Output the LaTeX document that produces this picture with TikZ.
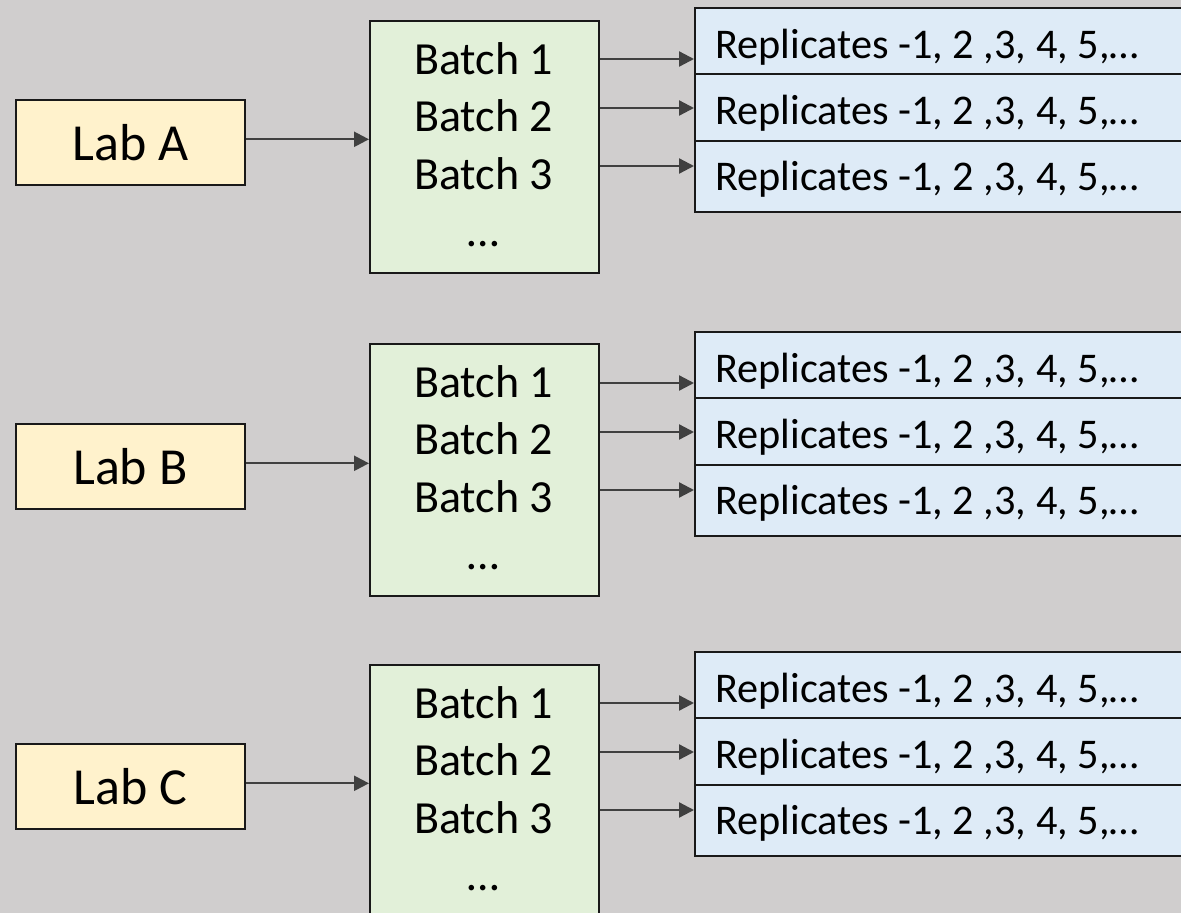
\documentclass[tikz,border=0pt]{standalone}
\usepackage{fontspec}
\setmainfont{Carlito}
\usetikzlibrary{arrows.meta}
\definecolor{bggray}{HTML}{D0CECE}
\definecolor{labfill}{HTML}{FFF2CC}
\definecolor{batchfill}{HTML}{E2F0D9}
\definecolor{repfill}{HTML}{DEEBF7}
\definecolor{arrowgray}{HTML}{404040}
\begin{document}
\begin{tikzpicture}[x=1pt,y=-1pt,
  box/.style={draw=black!90, line width=1.6pt, rectangle, inner sep=0pt, anchor=north west},
  labbox/.style={box, fill=labfill, minimum width=229pt, minimum height=85pt, font=\fontsize{52}{60}\selectfont},
  batchbox/.style={box, fill=batchfill, minimum width=229pt, minimum height=252pt},
  repbox/.style={box, fill=repfill, minimum width=500pt},
  btext/.style={anchor=base, inner sep=0pt, font=\fontsize{46}{55}\selectfont},
  rtext/.style={anchor=base west, inner sep=0pt, font=\fontsize{42.3}{50}\selectfont},
  arr/.style={draw=arrowgray, line width=2.3pt, -{Triangle[length=15pt,width=15pt]}},
]
\useasboundingbox (0,0) rectangle (1181,913);
\fill[bggray] (0,0) rectangle (1181,913);
\clip (0,0) rectangle (1181,913);
\foreach \g/\lt/\bt/\rt in {A/99/20/7, B/423/343/331, C/743/664/651} {
  % lab
  \node[labbox] (lab\g) at (15,\lt) {Lab \g};
  % batch
  \node[batchbox] (batch\g) at (369,\bt) {};
  \node[btext] (b\g1) at (483.5,\bt+54) {Batch 1};
  \node[btext] (b\g2) at (483.5,\bt+111) {Batch 2};
  \node[btext] (b\g3) at (483.5,\bt+169) {Batch 3};
  \node[btext] (b\g4) at (483.5,\bt+226) {…};
  % replicates
  \node[repbox, minimum height=66pt] (r\g1) at (694,\rt) {};
  \node[repbox, minimum height=67pt] (r\g2) at (694,\rt+66) {};
  \node[repbox, minimum height=71pt] (r\g3) at (694,\rt+133) {};
  \node[rtext] (t\g1) at (715,\rt+51) {Replicates -1, 2 ,3, 4, 5,…};
  \node[rtext] (t\g2) at (715,\rt+117) {Replicates -1, 2 ,3, 4, 5,…};
  \node[rtext] (t\g3) at (715,\rt+183) {Replicates -1, 2 ,3, 4, 5,…};
  % connectors
  \coordinate (q\g) at ([yshift=3pt]lab\g.east);
  \draw[arr] (q\g) -- (q\g -| batch\g.west);
  \coordinate (p\g1) at ([yshift=-52pt]r\g1.north west);
  \coordinate (p\g2) at ([yshift=-101pt]r\g1.north west);
  \coordinate (p\g3) at ([yshift=-159pt]r\g1.north west);
  \draw[arr] (batch\g.east |- p\g1) -- (p\g1);
  \draw[arr] (batch\g.east |- p\g2) -- (p\g2);
  \draw[arr] (batch\g.east |- p\g3) -- (p\g3);
}
\end{tikzpicture}
\end{document}
